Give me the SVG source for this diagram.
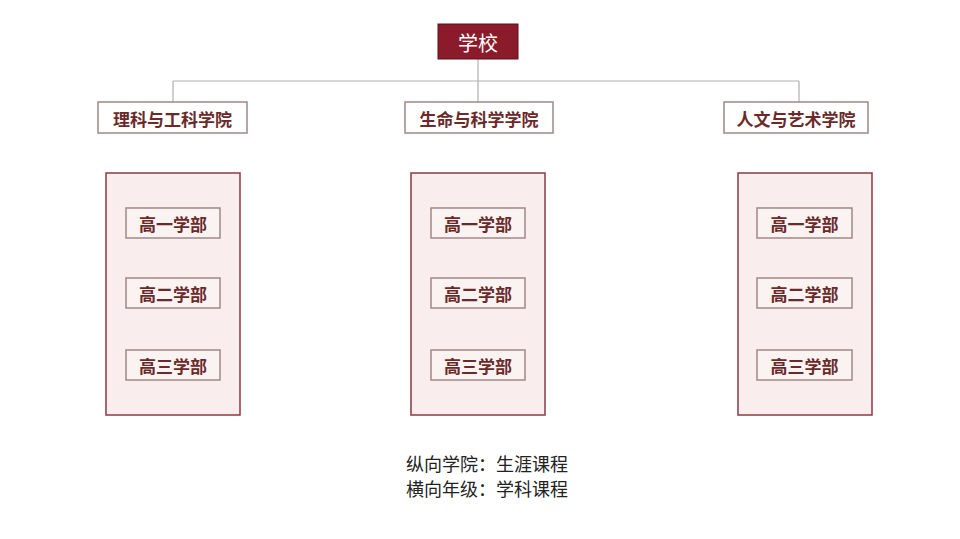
<svg xmlns="http://www.w3.org/2000/svg" width="960" height="539" viewBox="0 0 960 539">
<style>
text{font-family:"Noto Sans CJK SC","Noto Sans",sans-serif;text-anchor:middle;dominant-baseline:central}
.d{fill:#fff;stroke:#a08888;stroke-width:1.5}
.d+text{font-size:17px;font-weight:bold;fill:#6a2a2a}
.big{fill:#f9eeed;stroke:#8b3a44;stroke-width:1.5}
.g{fill:#faf3f2;stroke:#a08888;stroke-width:1.5}
.g+text{font-size:17px;font-weight:bold;fill:#6a2a2a}
</style>
<rect width="960" height="539" fill="#fff"/>
<g id="connectors" stroke="#b0b0b0" stroke-width="1.2" fill="none">
<path d="M478 59V81M173 81H799M173 81V102M478 81V102M799 81V102"/>
</g>
<g id="school"><rect x="438" y="24" width="80" height="35" fill="#8b1a2b" stroke="#5a1018"/><text x="478" y="42" font-size="20" fill="#fff">学校</text></g>
<g id="c1"><rect class="d" x="98" y="102" width="149" height="31"/><text x="172.5" y="118">理科与工科学院</text></g>
<g id="c2"><rect class="d" x="405" y="102" width="148" height="31"/><text x="479" y="118">生命与科学学院</text></g>
<g id="c3"><rect class="d" x="724" y="102" width="144" height="31"/><text x="796" y="118">人文与艺术学院</text></g>
<g id="b1"><rect class="big" x="106" y="173" width="134" height="242"/>
<rect class="g" x="126" y="208" width="94" height="30"/><text x="173" y="223">高一学部</text>
<rect class="g" x="126" y="278" width="94" height="30"/><text x="173" y="293">高二学部</text>
<rect class="g" x="126" y="350" width="94" height="30"/><text x="173" y="365">高三学部</text></g>
<g id="b2"><rect class="big" x="411" y="173" width="134" height="242"/>
<rect class="g" x="431" y="208" width="94" height="30"/><text x="478" y="223">高一学部</text>
<rect class="g" x="431" y="278" width="94" height="30"/><text x="478" y="293">高二学部</text>
<rect class="g" x="431" y="350" width="94" height="30"/><text x="478" y="365">高三学部</text></g>
<g id="b3"><rect class="big" x="738" y="173" width="134" height="242"/>
<rect class="g" x="757" y="208" width="95" height="30"/><text x="804.5" y="223">高一学部</text>
<rect class="g" x="757" y="278" width="95" height="30"/><text x="804.5" y="293">高二学部</text>
<rect class="g" x="757" y="350" width="95" height="30"/><text x="804.5" y="365">高三学部</text></g>
<g id="note" font-size="18" fill="#222"><text x="487" y="463">纵向学院：生涯课程</text><text x="487" y="488">横向年级：学科课程</text></g>
</svg>
